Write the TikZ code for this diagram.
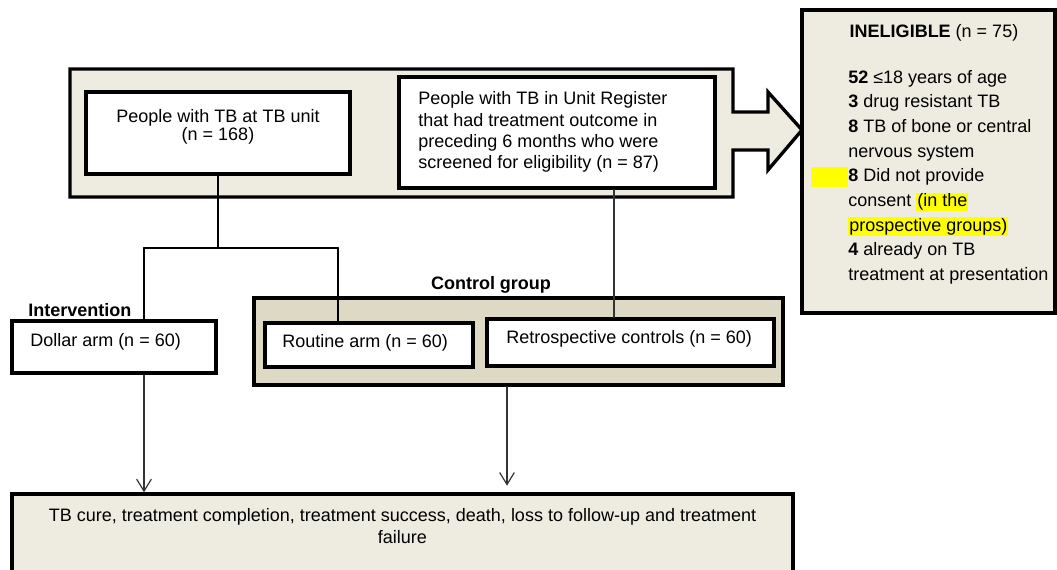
\documentclass[tikz,border=0pt]{standalone}
\usepackage{fontspec}
\setmainfont{Liberation Sans}
\usetikzlibrary{arrows.meta,fit}

\begin{document}
\begin{tikzpicture}[
    x=0.75pt,
    y=-0.75pt,
    line cap=round,
    line join=miter,
    every node/.style={font={\fontsize{13.5}{16}\selectfont},inner sep=0pt},
]
\definecolor{tbPanel}{HTML}{EEECE1}
\definecolor{tbControl}{HTML}{DDD9C4}
\definecolor{tbMark}{HTML}{FFFF00}

\tikzset{
    panel/.style={draw=black,fill=tbPanel,line width=2.5pt},
    ctrlpanel/.style={draw=black,fill=tbControl,line width=2.5pt},
    whitebox/.style={draw=black,fill=white,line width=2.5pt},
    link/.style={draw=black,line width=1.5pt},
    softlink/.style={draw=black!80,line width=0.9pt},
    flow/.style={softlink,-{Straight Barb[length=9pt,width=11pt,line width=0.9pt]}},
    boldlabel/.style={font={\fontsize{13.5}{16}\selectfont\bfseries}},
}

\newcommand{\hilite}[1]{{\setlength{\fboxsep}{0.8pt}\colorbox{tbMark}{#1}}}

\useasboundingbox (0,0) rectangle (1057,570);
\clip (0,0) rectangle (1057,570);

\filldraw[panel] (70,69) -- (733,69) -- (733,112) -- (768,112) -- (768,92)
    -- (802,130) -- (768,170) -- (768,150) -- (733,150) -- (733,197)
    -- (70,197) -- cycle;
\node[panel,fit={(802,10) (1055,313)}] (inelig) {};
\node[whitebox,fit={(86,92) (350,174)}] (unitbox) {};
\node[whitebox,fit={(399,77) (715,188)}] (registerbox) {};

\node[whitebox,fit={(12,321) (216,373)}] (dollarbox) {};
\node[ctrlpanel,fit={(254,298) (783,385)}] (ctrlpanel) {};
\node[whitebox,fit={(265,323) (473,367)}] (routinebox) {};
\node[whitebox,fit={(487,319) (774,366)}] (retrobox) {};
\node[panel,fit={(12,494) (793,600)}] (outcomebox) {};

\fill[tbMark] (811,167) rectangle (848,187);

\node[anchor=north,align=center,font={\fontsize{13.5}{12.4}\selectfont}] (unittext) at (218,109)
    {People with TB at TB unit\\(n = 168)};
\node[anchor=north west,align=left] (registertext) at (418,91.5)
    {People with TB in Unit Register\\that had treatment outcome in\\preceding 6 months who were\\screened for eligibility (n = 87)};
\node (inelighead) at (934,33) {\textbf{INELIGIBLE} (n = 75)};
\node[anchor=north west,align=left,font={\fontsize{13.5}{18.5}\selectfont}] (inelignotes) at (848,70)
    {\textbf{52} ≤18 years of age\\
     \textbf{3} drug resistant TB\\
     \textbf{8} TB of bone or central\\
     nervous system\\
     \textbf{8} Did not provide\\
     consent \hilite{(in the}\\
     \hilite{prospective groups)}\\
     \textbf{4} already on TB\\
     treatment at presentation};

\node[boldlabel,anchor=west] (intervlabel) at (28,310) {Intervention};
\node[boldlabel] (ctrllabel) at (491,285) {Control group};
\node[anchor=west] (dollartext) at (30,342) {Dollar arm (n = 60)};
\node[anchor=west] (routinetext) at (282,343) {Routine arm (n = 60)};
\node[anchor=west] (retrotext) at (506,339) {Retrospective controls (n = 60)};
\node[anchor=north,align=center,font={\fontsize{13.5}{16.5}\selectfont}] (outcometext) at (402.5,508)
    {TB cure, treatment completion, treatment success, death, loss to follow-up and treatment\\failure};

\coordinate (split) at (218,248);
\coordinate (armL) at (144,248);
\coordinate (armR) at (338,248);
\coordinate (regdrop) at (614,250);
\coordinate (ctrldrop) at (507,440);

\draw[link] (unitbox.south) -- (split);
\draw[link] (armL) -- (armR);
\draw[link] (armL) -- (armL |- dollarbox.north);
\draw[link] (armR) -- (armR |- routinebox.north);
\draw[softlink] (regdrop |- registerbox.south) -- (regdrop |- retrobox.north);
\draw[flow] (armL |- dollarbox.south) -- (armL |- outcomebox.north);
\draw[flow,shorten >=5pt] (ctrldrop |- ctrlpanel.south) -- (ctrldrop |- outcomebox.north);
\end{tikzpicture}
\end{document}
